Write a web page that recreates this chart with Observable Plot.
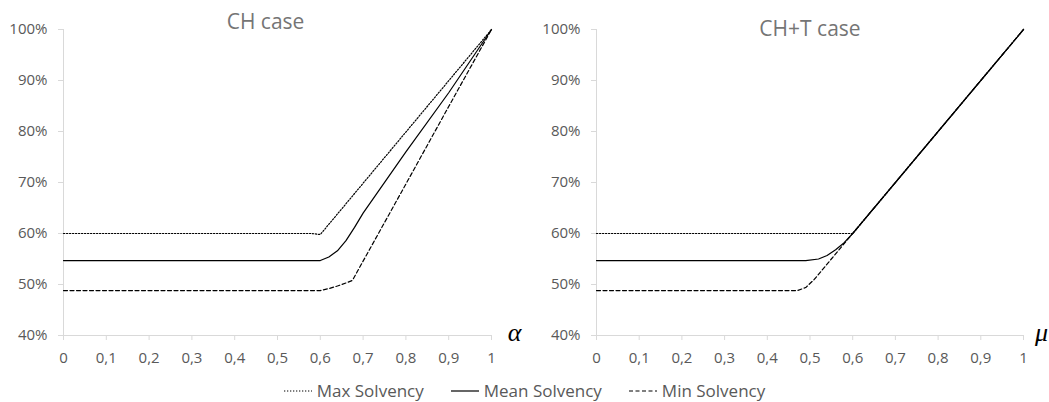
<!DOCTYPE html>
<html>
<head>
<meta charset="utf-8">
<script src="https://cdn.jsdelivr.net/npm/d3@7"></script>
<script src="https://cdn.jsdelivr.net/npm/@observablehq/plot@0.6"></script>
<style>
  html, body { margin: 0; padding: 0; background: #fff; }
  #charts { display: flex; flex-direction: row; }
  #legend { display: flex; justify-content: center; align-items: center; gap: 27px;
            margin-top: 13px; font-family: "Open Sans", sans-serif; font-size: 17px; color: #595959; }
  .item { display: flex; align-items: center; gap: 5px; }
</style>
</head>
<body>
<div id="charts"></div>
<div id="legend"></div>
<script>
// ---- data ----
const titles = ["CH case", "CH+T case"];
const axisSymbols = ["\u03B1", "\u03BC"];
const seriesNames = ["Max Solvency", "Mean Solvency", "Min Solvency"];
const xTicks = [0, 0.1, 0.2, 0.3, 0.4, 0.5, 0.6, 0.7, 0.8, 0.9, 1];
const yTicks = [40, 50, 60, 70, 80, 90, 100];

// CH case
const chMaxX  = [0, 0.58, 0.6, 1];
const chMaxY  = [60, 60, 59.8, 100];
const chMeanX = [0, 0.6, 0.62, 0.64, 0.66, 0.68, 0.7, 0.8, 0.9, 1];
const chMeanY = [54.7, 54.7, 55.4, 56.6, 58.6, 61.2, 64.0, 76.0, 87.6, 100];
const chMinX  = [0, 0.6, 0.62, 0.64, 0.66, 0.675, 0.8, 0.9, 1];
const chMinY  = [48.8, 48.8, 49.2, 49.7, 50.3, 50.8, 69.7, 84.9, 100];

// CH+T case
const chtMaxX  = [0, 0.6, 1];
const chtMaxY  = [60, 60, 100];
const chtMeanX = [0, 0.49, 0.52, 0.54, 0.56, 0.58, 0.6, 0.7, 0.8, 0.9, 1];
const chtMeanY = [54.7, 54.7, 55.0, 55.7, 56.8, 58.2, 60, 70, 80, 90, 100];
const chtMinX  = [0, 0.47, 0.49, 0.51, 0.55, 0.6, 1];
const chtMinY  = [48.8, 48.8, 49.4, 51, 55, 60, 100];

// ---- styles ----
const dashes = {"Max Solvency": "1.3,1.7", "Mean Solvency": null, "Min Solvency": "4,2.5"};
const fmtX = d => String(d).replace(".", ",");
const fmtY = d => d + "%";

function toRows(xs, ys, name) { return xs.map((x, i) => ({x, y: ys[i], s: name})); }

function chart({title, titleDx, titleDy, sym, symDx, data, width, marginLeft, marginRight}) {
  const lines = seriesNames.map(name => Plot.line(data.filter(d => d.s === name), {
    x: "x", y: "y", stroke: "#000", strokeWidth: 1.2,
    strokeDasharray: dashes[name] || undefined
  }));
  return Plot.plot({
    width, height: 366,
    marginTop: 29, marginBottom: 31, marginLeft, marginRight,
    style: {fontFamily: "Open Sans, sans-serif", fontSize: "15px", background: "#fff", color: "#595959"},
    x: {domain: [0, 1]},
    y: {domain: [40, 100]},
    marks: [
      Plot.ruleX([0], {stroke: "#d9d9d9", strokeWidth: 1}),
      Plot.ruleY([40], {stroke: "#d9d9d9", strokeWidth: 1}),
      Plot.axisX({ticks: xTicks, tickFormat: fmtX, tickSize: 5, tickPadding: 12, stroke: "#d9d9d9", fill: "#595959", label: null}),
      Plot.axisY({ticks: yTicks, tickFormat: fmtY, tickSize: 5, tickPadding: 11, stroke: "#d9d9d9", fill: "#595959", label: null}),
      ...lines,
      Plot.text([title], {frameAnchor: "top", dx: titleDx, dy: titleDy, fontSize: 21, fill: "#757575", lineAnchor: "middle"}),
      Plot.text([sym], {frameAnchor: "bottom-right", dx: symDx, dy: -3, fontSize: 26, fontStyle: "italic",
                        fontFamily: "Liberation Serif, serif", fill: "#000", lineAnchor: "middle", textAnchor: "middle"})
    ]
  });
}

const left = chart({
  title: titles[0], titleDx: -12, titleDy: -7, sym: axisSymbols[0], symDx: 23,
  data: [...toRows(chMaxX, chMaxY, seriesNames[0]), ...toRows(chMeanX, chMeanY, seriesNames[1]), ...toRows(chMinX, chMinY, seriesNames[2])],
  width: 524, marginLeft: 63, marginRight: 33
});
const right = chart({
  title: titles[1], titleDx: 0, titleDy: 0, sym: axisSymbols[1], symDx: 18,
  data: [...toRows(chtMaxX, chtMaxY, seriesNames[0]), ...toRows(chtMeanX, chtMeanY, seriesNames[1]), ...toRows(chtMinX, chtMinY, seriesNames[2])],
  width: 525, marginLeft: 72, marginRight: 26
});
document.getElementById("charts").append(left, right);

// legend
const legend = d3.select("#legend");
seriesNames.forEach(name => {
  const item = legend.append("div").attr("class", "item");
  const svg = item.append("svg").attr("width", 28).attr("height", 10);
  svg.append("line").attr("x1", 0).attr("x2", 28).attr("y1", 5).attr("y2", 5)
    .attr("stroke", "#000").attr("stroke-width", 1.2)
    .attr("stroke-dasharray", dashes[name] || null);
  item.append("span").text(name);
});
</script>
</body>
</html>
